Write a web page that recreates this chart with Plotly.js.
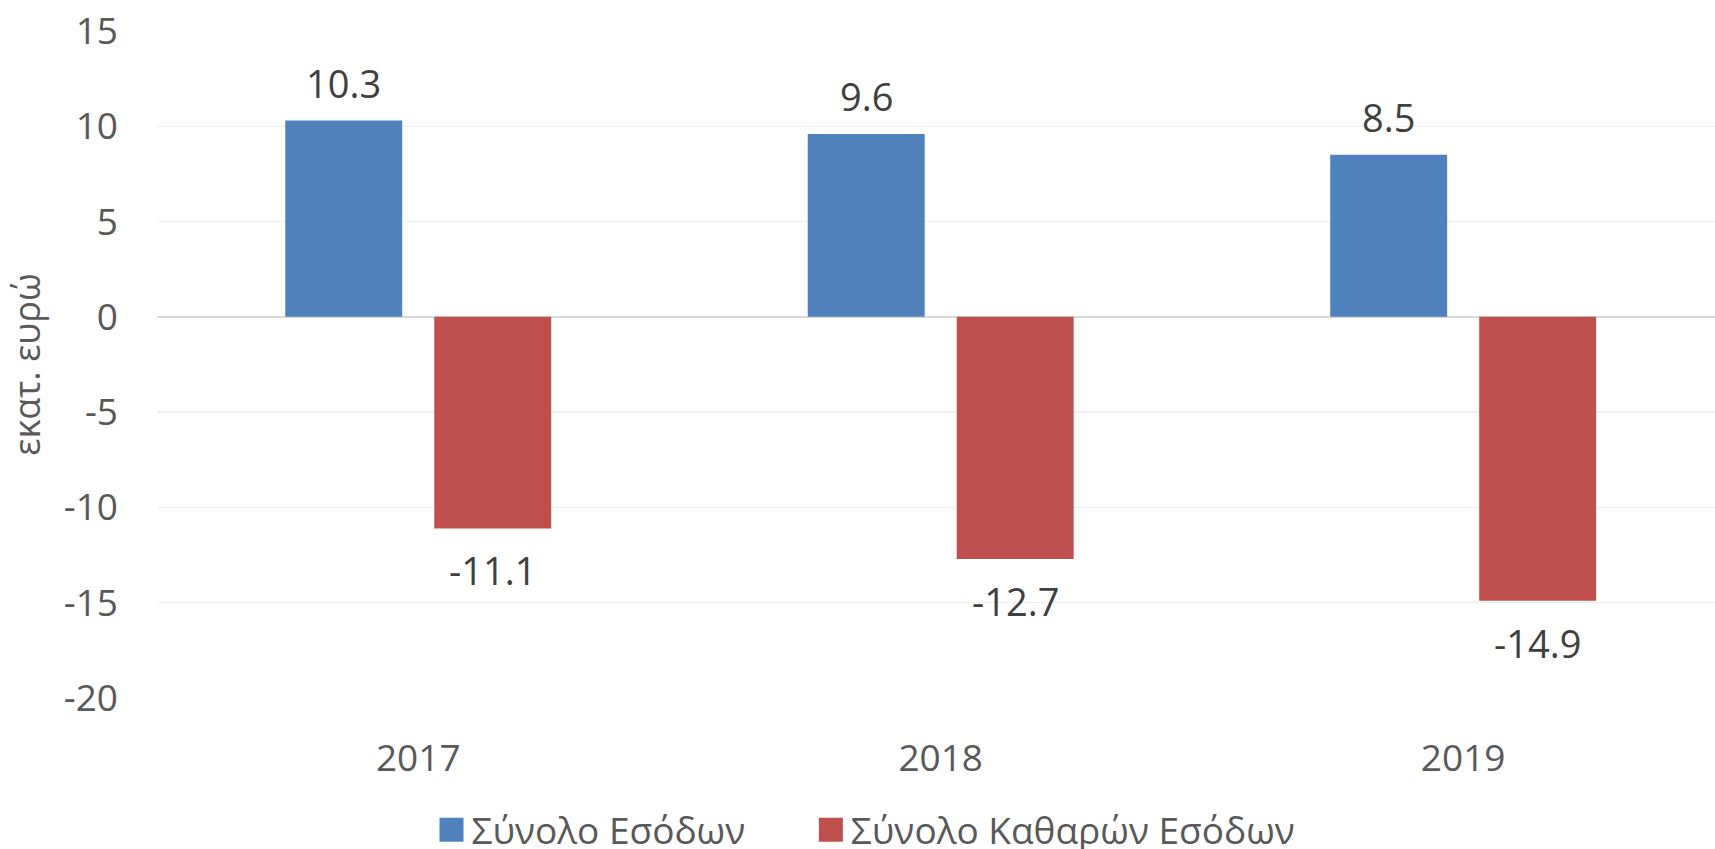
<!DOCTYPE html>
<html>
<head>
<meta charset="utf-8">
<script src="https://cdn.plot.ly/plotly-3.0.1.min.js"></script>
<style>html,body{margin:0;padding:0;background:#fff;}</style>
</head>
<body>
<div id="chart" style="width:1715px;height:849px;"></div>
<script>
const years = ["2017", "2018", "2019"];
const totalIncome = [10.3, 9.6, 8.5];
const totalNetIncome = [-11.1, -12.7, -14.9];
const seriesNames = ["Σύνολο Εσόδων", "Σύνολο Καθαρών Εσόδων"];
const seriesColors = ["#4F81BD", "#C0504D"];
const yTicks = [15, 10, 5, 0, -5, -10, -15, -20];
const yTitle = "εκατ. ευρώ";

const font = "Open Sans, sans-serif";
const series = [totalIncome, totalNetIncome];

const traces = series.map((vals, i) => ({
  type: "bar", name: seriesNames[i], x: years, y: vals,
  marker: {color: seriesColors[i]}, hoverinfo: "none",
  legend: i === 0 ? "legend" : "legend2"
}));

// data labels placed at each bar's value (x given as category index)
const groupOffsetPx = [-74.5, 74.5];
const annotations = [];
series.forEach((vals, i) => {
  vals.forEach((v, j) => {
    annotations.push({
      x: j, y: v, xref: "x", yref: "y",
      text: v.toFixed(1), showarrow: false,
      xshift: groupOffsetPx[i], yshift: v >= 0 ? 38 : -42,
      xanchor: "center", yanchor: "middle",
      font: {family: font, size: 38, color: "#404040"}
    });
  });
});

const legendCommon = {orientation: "h", xref: "container", yref: "container",
  xanchor: "left", y: 0.022, yanchor: "middle", bgcolor: "rgba(0,0,0,0)",
  font: {family: font, size: 37, color: "#595959"}};

const layout = {
  width: 1715, height: 849,
  margin: {l: 157, r: 0, t: 31, b: 151, pad: 0},
  paper_bgcolor: "#fff", plot_bgcolor: "#fff",
  barmode: "group", bargap: 0.4297, bargroupgap: 0.215,
  font: {family: font, color: "#595959"},
  showlegend: true,
  legend: Object.assign({}, legendCommon, {x: 0.2516}),
  legend2: Object.assign({}, legendCommon, {x: 0.4728}),
  annotations: annotations,
  xaxis: {type: "category", range: [-0.5, 2.482], showgrid: false, zeroline: false,
    showline: false, ticks: "", tickfont: {family: font, size: 37, color: "#595959"},
    ticklabelstandoff: 35, fixedrange: true},
  yaxis: {range: [-20, 15], tickvals: yTicks, ticktext: yTicks.map(String),
    showgrid: true, gridcolor: "#efefef", gridwidth: 1.5,
    zeroline: true, zerolinecolor: "#d9d9d9", zerolinewidth: 2,
    showline: false, ticks: "", ticklabelstandoff: 38,
    tickfont: {family: font, size: 37, color: "#595959"},
    title: {text: yTitle, font: {family: font, size: 36, color: "#595959"}, standoff: 12},
    fixedrange: true}
};

Plotly.newPlot("chart", traces, layout, {displayModeBar: false, staticPlot: true}).then(() => {
  // enlarge the legend swatches, keeping Plotly's own centring transform
  document.querySelectorAll(".legendpoints path").forEach(p => {
    p.setAttribute("d", "M12,12H-12V-12H12Z");
  });
});
</script>
</body>
</html>
